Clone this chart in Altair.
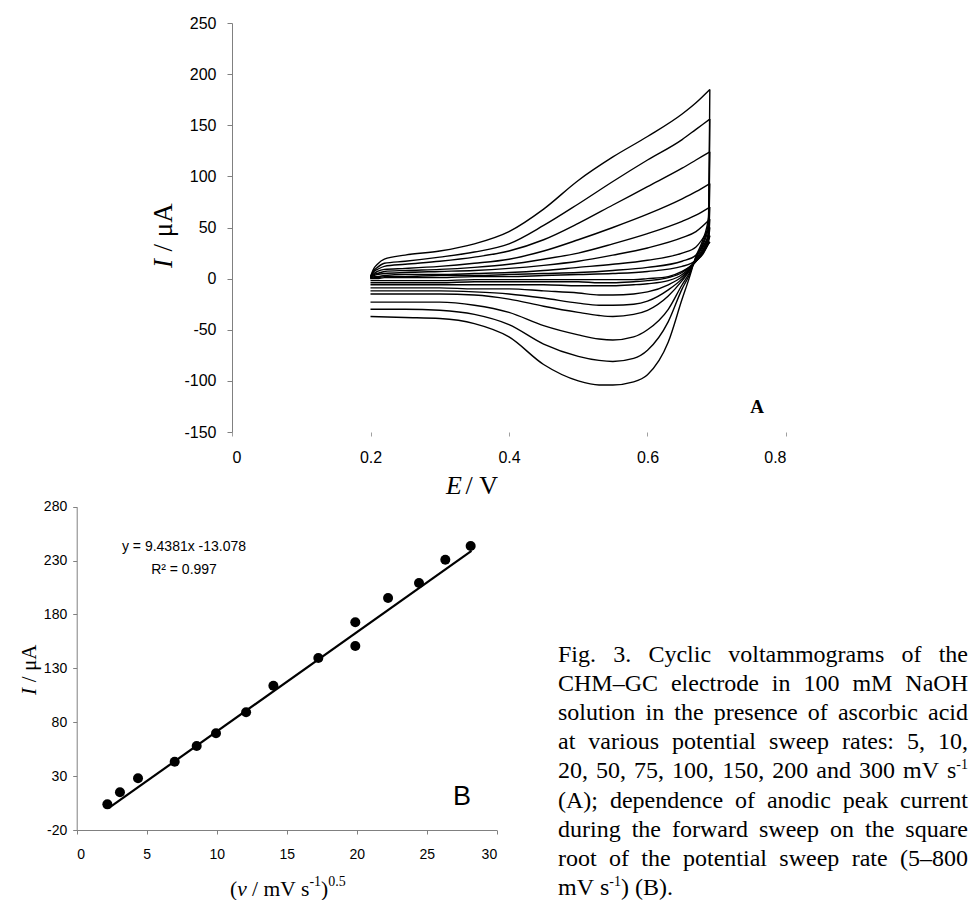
import altair as alt
import pandas as pd

W, H = 973, 900

# ---------------- Panel A : cyclic voltammograms ----------------
RATES = [5, 10, 20, 50, 75, 100, 150, 200, 300]
E_FWD = [0.20, 0.205, 0.21, 0.22, 0.25, 0.30, 0.35, 0.40, 0.45, 0.50, 0.55, 0.60, 0.65, 0.67, 0.69]
I_FWD = {
    5:   [0, 0, 0, 1, 1, 1, 2, 2, 3, 4, 5, 7, 12, 18, 36],
    10:  [0, 1, 1, 2, 2, 3, 3, 4, 5, 6, 8, 11, 17, 23, 42],
    20:  [0, 2, 2, 3, 4, 4, 5, 6, 8, 11, 14, 18, 25, 31, 50],
    50:  [1, 3, 4, 5, 6, 7, 8, 10, 13, 17, 23, 30, 40, 46, 58],
    75:  [1, 4, 5, 7, 8, 9, 11, 14, 19, 25, 34, 44, 56, 62, 70],
    100: [1, 5, 7, 9, 10, 12, 15, 19, 27, 38, 50, 63, 78, 85, 93],
    150: [1, 7, 9, 12, 14, 17, 21, 27, 38, 54, 72, 90, 108, 116, 124],
    200: [2, 8, 11, 15, 17, 21, 26, 34, 52, 73, 95, 116, 136, 146, 156],
    300: [2, 10, 14, 19, 23, 27, 34, 46, 68, 96, 119, 139, 161, 172, 185],
}
E_REV = [0.69, 0.688, 0.68, 0.67, 0.66, 0.65, 0.63, 0.60, 0.58, 0.55, 0.53, 0.50, 0.45, 0.40, 0.35, 0.30, 0.25, 0.20]
I_REV = {
    5:   [36, 34, 24, 17, 11, 7, 2, 0, -1, -1, -1, -1, -1, -1, -1, -2, -2, -2],
    10:  [42, 36, 25, 17, 11, 6, 1, -2, -3, -4, -4, -3, -3, -3, -3, -4, -4, -4],
    20:  [50, 38, 26, 17, 10, 4, -2, -5, -6, -7, -7, -7, -6, -6, -6, -6, -6, -6],
    50:  [58, 40, 27, 17, 9, 2, -6, -13, -15, -16, -16, -14, -12, -10, -10, -9, -9, -9],
    75:  [70, 42, 28, 18, 8, 0, -11, -22, -25, -26, -26, -24, -19, -15, -13, -12, -12, -12],
    100: [93, 45, 30, 19, 7, -2, -17, -31, -35, -37, -36, -33, -27, -20, -16, -15, -15, -15],
    150: [124, 50, 33, 20, 5, -6, -30, -50, -57, -60, -59, -55, -46, -33, -26, -23, -23, -23],
    200: [156, 55, 35, 21, 3, -10, -42, -70, -78, -81, -80, -76, -64, -45, -35, -31, -30, -30],
    300: [185, 60, 38, 22, 0, -20, -62, -94, -101, -104, -104, -100, -84, -57, -44, -39, -38, -37],
}

# ---------------- Panel B : peak current vs sqrt(rate) ----------------
B_X = [2.19, 3.09, 4.38, 7.0, 8.57, 9.95, 12.1, 14.05, 17.26, 19.9, 19.9, 22.24, 24.45, 26.33, 28.14]
B_Y = [3.8, 15.0, 28.0, 43.4, 58.0, 69.7, 89.2, 113.9, 139.6, 150.7, 172.7, 195.3, 209.2, 230.8, 243.5]
FIT_X = [2.3, 28.2]
FIT_Y = [0.5, 239.0]

A_Y_TICKS = [-150, -100, -50, 0, 50, 100, 150, 200, 250]
A_X_TICKS = [0, 0.2, 0.4, 0.6, 0.8]
B_Y_TICKS = [-20, 30, 80, 130, 180, 230, 280]
B_X_TICKS = [0, 5, 10, 15, 20, 25, 30]

EQ_TEXT = "y = 9.4381x -13.078"
R2_TEXT = "R² = 0.997"

CAPTION = [
    ["Fig.", "3.", "Cyclic", "voltammograms", "of", "the"],
    ["CHM–GC", "electrode", "in", "100", "mM", "NaOH"],
    ["solution", "in", "the", "presence", "of", "ascorbic", "acid"],
    ["at", "various", "potential", "sweep", "rates:", "5,", "10,"],
    ["20,", "50,", "75,", "100,", "150,", "200", "and", "300", "mV", "s"],
    ["(A);", "dependence", "of", "anodic", "peak", "current"],
    ["during", "the", "forward", "sweep", "on", "the", "square"],
    ["root", "of", "the", "potential", "sweep", "rate", "(5–800"],
]

# ---------------- layout helpers ----------------
SERIF = "Liberation Serif"
SANS = "Liberation Sans"
NB = "\u00a0"
TW = {' ': 250, NB: 250, '(': 333, ')': 333, ',': 250, '-': 333, '.': 250, '/': 278, ':': 278,
      ';': 278, '–': 500, 'A': 722, 'B': 667, 'C': 667, 'F': 556, 'G': 722, 'H': 722, 'M': 889,
      'N': 722, 'O': 722, 'V': 722, 'a': 444, 'b': 500, 'c': 444, 'd': 500, 'e': 444, 'f': 333,
      'g': 500, 'h': 500, 'i': 278, 'k': 500, 'l': 278, 'm': 778, 'n': 500, 'o': 500, 'p': 500,
      'q': 500, 'r': 333, 's': 389, 't': 278, 'u': 500, 'v': 500, 'w': 722, 'x': 500, 'y': 500}


def tw(s, size):
    return sum(TW.get(c, 500) for c in s) * size / 1000.0


def txt(rows, **kw):
    df = pd.DataFrame(rows, columns=["px", "py", "t"])
    return alt.Chart(df).mark_text(**kw).encode(
        x=alt.X("px:Q", scale=None, axis=None),
        y=alt.Y("py:Q", scale=None, axis=None),
        text="t:N",
    )


PLAIN_LABEL = "'' + datum.value"

# ---------------- Panel A chart ----------------
rows = []
for r in RATES:
    for e, i in zip(E_FWD, I_FWD[r]):
        rows.append({"branch": f"f{r}", "E": e, "I": i})
    for e, i in zip(E_REV, I_REV[r]):
        rows.append({"branch": f"r{r}", "E": e, "I": i})
dfA = pd.DataFrame(rows)

AX_L, AX_R, AY_B, AY_T = 232, 786, 432, 23
panelA = alt.Chart(dfA).mark_line(color="black", strokeWidth=1.4, interpolate="monotone").encode(
    x=alt.X("E:Q",
            scale=alt.Scale(domain=[0, 0.8], range=[AX_L, AX_R], nice=False, zero=False),
            axis=alt.Axis(orient="bottom", offset=AY_B - H, values=A_X_TICKS, labelExpr=PLAIN_LABEL,
                          title=None, grid=False, domain=False, tickColor="#a0a0a0",
                          tickSize=4, labelPadding=13, labelFont=SANS, labelFontSize=16,
                          labelColor="black")),
    y=alt.Y("I:Q",
            scale=alt.Scale(domain=[-150, 250], range=[AY_B, AY_T], nice=False, zero=False),
            axis=alt.Axis(orient="left", offset=-AX_L, values=A_Y_TICKS, labelExpr=PLAIN_LABEL,
                          title=None, grid=False, domainColor="#808080", tickColor="#808080",
                          tickSize=5, labelPadding=11, labelFont=SANS, labelFontSize=16,
                          labelColor="black")),
    detail="branch:N",
    order="E:Q",
)

# ---------------- Panel B chart ----------------
BX_L, BX_R, BY_B, BY_T = 76.7, 496.7, 830, 506.7
dfB = pd.DataFrame({"x": B_X, "y": B_Y})
dfFit = pd.DataFrame({"x": FIT_X, "y": FIT_Y})
bx = alt.X("x:Q",
           scale=alt.Scale(domain=[0, 30], range=[BX_L, BX_R], nice=False, zero=False),
           axis=alt.Axis(orient="bottom", offset=BY_B - H, values=B_X_TICKS, labelExpr=PLAIN_LABEL,
                         title=None, grid=False, domainColor="#808080", tickColor="#808080",
                         tickSize=4, labelPadding=13, labelFont=SANS, labelFontSize=14,
                         labelColor="black"))
by = alt.Y("y:Q",
           scale=alt.Scale(domain=[-20, 280], range=[BY_B, BY_T], nice=False, zero=False),
           axis=alt.Axis(orient="left", offset=-BX_L, values=B_Y_TICKS, labelExpr=PLAIN_LABEL,
                         title=None, grid=False, domainColor="#808080", tickColor="#808080",
                         tickSize=4, labelPadding=6, labelFont=SANS, labelFontSize=14,
                         labelColor="black"))
fit = alt.Chart(dfFit).mark_line(color="black", strokeWidth=2.2).encode(x=bx, y=by)
pts = alt.Chart(dfB).mark_circle(size=100, color="black", opacity=1).encode(x=bx, y=by)
panelB = alt.layer(fit, pts)

# ---------------- texts ----------------
layers = []
# Panel A titles
layers.append(txt([(164, 268, "I")], font=SERIF, fontSize=27, fontStyle="italic", angle=270,
                  align="left", baseline="middle", color="black"))
layers.append(txt([(164, 268 - tw("I", 27) - tw(" ", 27) * 0.45, "/" + NB + "μA")], font=SERIF,
                  fontSize=27, angle=270, align="left", baseline="middle", color="black"))
layers.append(txt([(446, 494, "E")], font=SERIF, fontSize=26, fontStyle="italic",
                  align="left", baseline="alphabetic", color="black"))
layers.append(txt([(446 + tw("E", 26) + tw(" ", 26), 494, "/" + NB + "V")], font=SERIF, fontSize=26,
                  align="left", baseline="alphabetic", color="black"))
layers.append(txt([(757, 407, "A")], font=SERIF, fontSize=19, fontWeight="bold",
                  align="center", baseline="middle", color="black"))

# Panel B titles
layers.append(txt([(30, 695, "I")], font=SERIF, fontSize=21, fontStyle="italic", angle=270,
                  align="left", baseline="middle", color="black"))
layers.append(txt([(30, 695 - tw("I", 21) - tw(" ", 21) * 0.45, "/" + NB + "μA")], font=SERIF,
                  fontSize=21, angle=270, align="left", baseline="middle", color="black"))
F, F2 = 21.5, 14
x0 = 230
main_rows, sup_rows, ital_rows = [], [], []
main_rows.append((x0, 896, "(")); x0 += tw("(", F)
ital_rows.append((x0, 896, "v")); x0 += tw("v", F) * 0.89 + tw(" ", F)
seg = "/" + NB + "mV" + NB + "s"
main_rows.append((x0, 896, seg)); x0 += tw(seg, F)
sup_rows.append((x0, 886, "-1")); x0 += tw("-1", F2)
main_rows.append((x0, 896, ")")); x0 += tw(")", F)
sup_rows.append((x0, 886, "0.5"))
layers.append(txt(main_rows, font=SERIF, fontSize=F, align="left", baseline="alphabetic", color="black"))
layers.append(txt(ital_rows, font=SERIF, fontSize=F, fontStyle="italic", align="left",
                  baseline="alphabetic", color="black"))
layers.append(txt(sup_rows, font=SERIF, fontSize=F2, align="left", baseline="alphabetic", color="black"))
layers.append(txt([(462, 797, "B")], font=SANS, fontSize=27, align="center", baseline="middle",
                  color="black"))
layers.append(txt([(184, 547, EQ_TEXT), (184, 570, R2_TEXT)], font=SANS, fontSize=14,
                  align="center", baseline="middle", color="black"))

# Caption (justified between CL and CR)
CL, CR, CF, CSUP = 558, 968, 24, 14
BASE0, LEAD = 662, 29.1
cap_rows, cap_sup = [], []
for li, words in enumerate(CAPTION):
    yb = BASE0 + li * LEAD
    extra = tw("-1", CSUP) if li == 4 else 0
    total = sum(tw(w, CF) for w in words) + extra
    gap = (CR - CL - total) / (len(words) - 1)
    xx = CL
    for w in words:
        cap_rows.append((xx, yb, w))
        xx += tw(w, CF) + gap
    if li == 4:
        xw = CL + sum(tw(w, CF) for w in words) + gap * (len(words) - 1)
        cap_sup.append((xw, yb - 9, "-1"))
yb = BASE0 + 8 * LEAD
last = "mV" + NB + "s"
cap_rows.append((CL, yb, last))
xs = CL + tw(last, CF)
cap_sup.append((xs, yb - 9, "-1"))
cap_rows.append((xs + tw("-1", CSUP), yb, ")" + NB + "(B)."))
layers.append(txt(cap_rows, font=SERIF, fontSize=CF, align="left", baseline="alphabetic", color="black"))
layers.append(txt(cap_sup, font=SERIF, fontSize=CSUP, align="left", baseline="alphabetic", color="black"))

chart = alt.layer(panelA, panelB, *layers).resolve_scale(
    x="independent", y="independent"
).properties(
    width=W, height=H, padding=0, autosize=alt.AutoSizeParams(type="none"), background="white"
).configure_view(stroke=None)

chart.save("out.html", embed_options={"renderer": "svg", "actions": False})
